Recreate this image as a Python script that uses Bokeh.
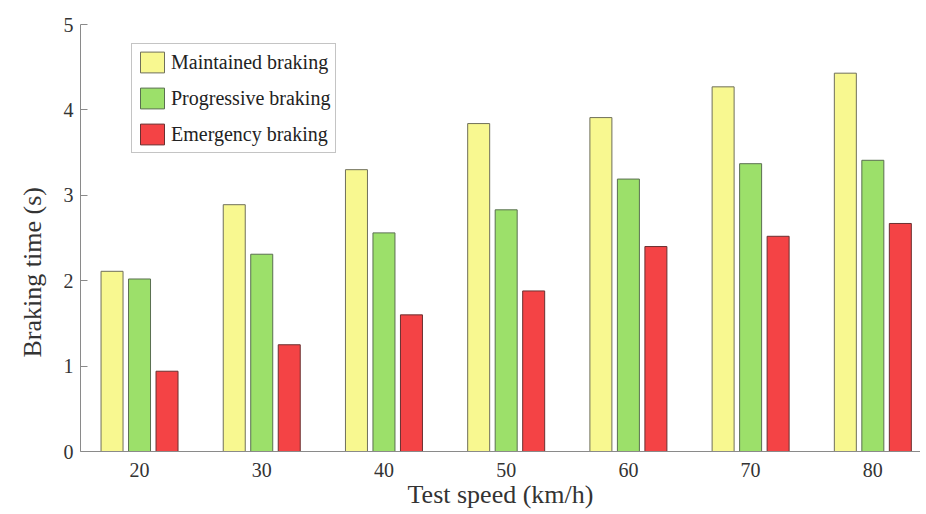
from bokeh.plotting import figure
from bokeh.models import ColumnDataSource, Legend, LegendItem, Range1d, FixedTicker, Title
from bokeh.transform import dodge
from bokeh.embed import file_html
from bokeh.resources import INLINE

speeds = [20, 30, 40, 50, 60, 70, 80]
maintained = [2.11, 2.89, 3.30, 3.84, 3.91, 4.27, 4.43]
progressive = [2.02, 2.31, 2.56, 2.83, 3.19, 3.37, 3.41]
emergency = [0.94, 1.25, 1.60, 1.88, 2.40, 2.52, 2.67]
series_names = ["Maintained braking", "Progressive braking", "Emergency braking"]
y_ticks = [0, 1, 2, 3, 4, 5]

src = ColumnDataSource(dict(speed=speeds, m=maintained, p=progressive, e=emergency))

FONT = "Liberation Serif"
p = figure(width=920, height=514, output_backend="svg", toolbar_location=None,
           x_range=Range1d(15.17, 83.9), y_range=Range1d(0, 5),
           min_border_left=80, min_border_right=0, min_border_top=24, min_border_bottom=63)
p.outline_line_color = None
p.xgrid.grid_line_color = None
p.ygrid.grid_line_color = None

bw = 1.8
off = 2.25
r1 = p.vbar(x=dodge("speed", -off), top="m", width=bw, source=src,
            fill_color="#F8F890", line_color="#6f6f5a", line_width=1)
r2 = p.vbar(x=dodge("speed", 0), top="p", width=bw, source=src,
            fill_color="#9CE06A", line_color="#5a6f50", line_width=1)
r3 = p.vbar(x=dodge("speed", off), top="e", width=bw, source=src,
            fill_color="#F44345", line_color="#6a3030", line_width=1)

for ax in (p.xaxis[0], p.yaxis[0]):
    ax.axis_line_color = "#8a8a8a"
    ax.axis_line_width = 1
    ax.major_label_text_font = FONT
    ax.major_label_text_font_size = "20px"
    ax.major_label_text_color = "#333333"
    ax.axis_label_text_font = FONT
    ax.axis_label_text_font_style = "normal"
    ax.axis_label_text_color = "#333333"
    ax.minor_tick_line_color = None

p.xaxis.ticker = FixedTicker(ticks=speeds)
p.xaxis.major_tick_line_color = None
p.xaxis.major_tick_in = 0
p.xaxis.major_tick_out = 0
p.xaxis.major_label_standoff = 11
p.xaxis.axis_label = "Test speed (km/h)"
p.xaxis.axis_label_text_font_size = "26px"
p.xaxis.axis_label_standoff = 0

p.yaxis.ticker = FixedTicker(ticks=y_ticks)
p.yaxis.major_tick_in = 7
p.yaxis.major_tick_out = 0
p.yaxis.major_tick_line_color = "#8a8a8a"
p.yaxis.major_label_standoff = 7

ylab = Title(text="Braking time (s)", align="left", offset=94, standoff=27,
             text_font=FONT, text_font_size="26px", text_font_style="normal",
             text_color="#333333")
p.add_layout(ylab, "left")

legend = Legend(items=[LegendItem(label=series_names[0], renderers=[r1]),
                       LegendItem(label=series_names[1], renderers=[r2]),
                       LegendItem(label=series_names[2], renderers=[r3])],
                location=(51, 298))
legend.label_text_font = FONT
legend.label_text_font_size = "20px"
legend.label_text_color = "#222222"
legend.glyph_width = 30
legend.glyph_height = 26
legend.label_height = 26
legend.spacing = 10
legend.padding = 5
legend.margin = 0
legend.label_standoff = 4
legend.border_line_color = "#8a8a8a"
legend.border_line_width = 1
legend.background_fill_alpha = 1
p.add_layout(legend)

open("out.html", "w").write(file_html(p, INLINE))
